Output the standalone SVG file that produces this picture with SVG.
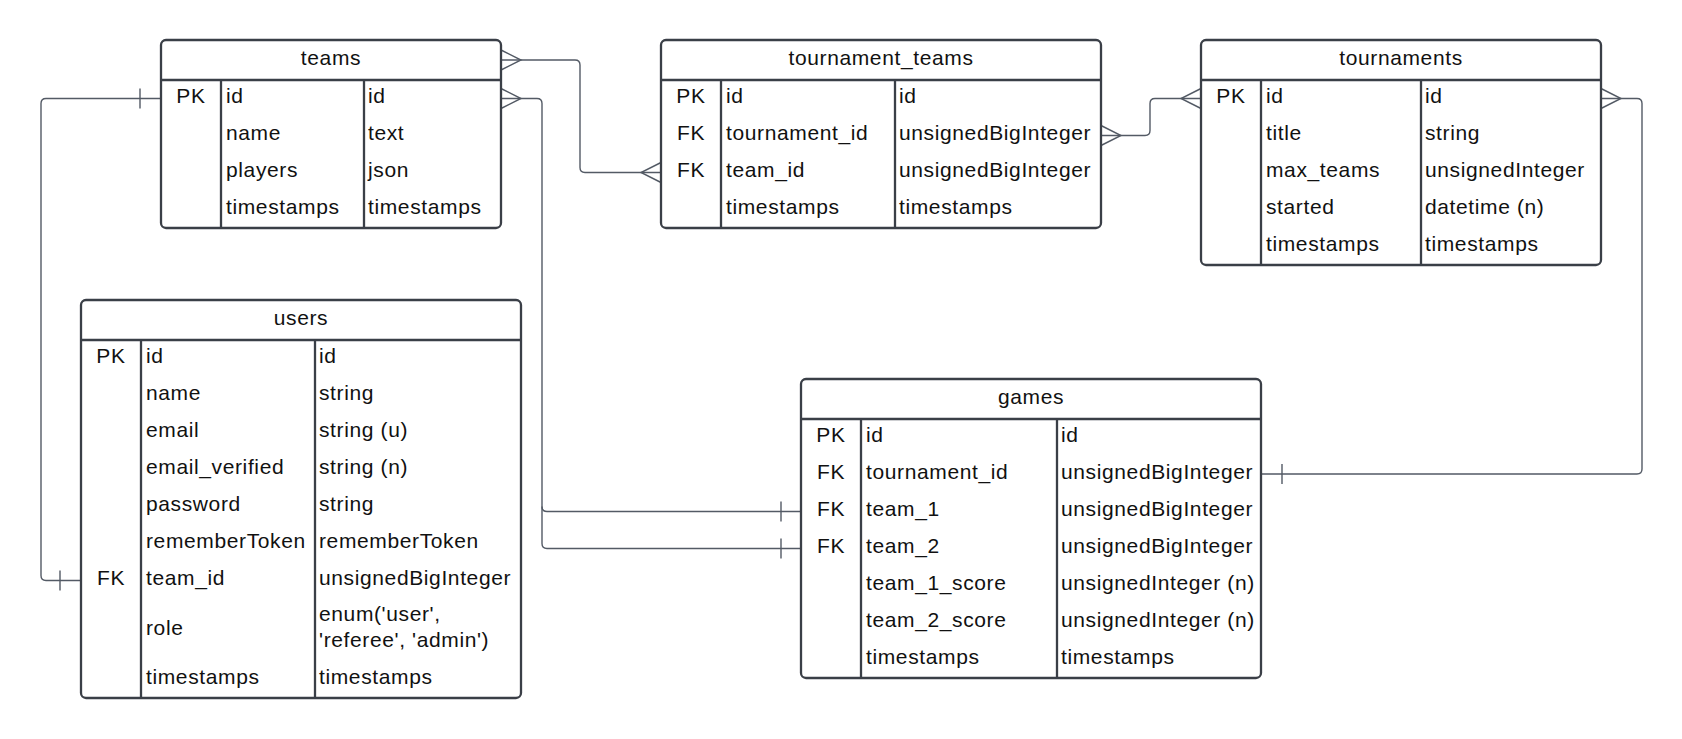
<svg xmlns="http://www.w3.org/2000/svg" width="1682" height="739" viewBox="0 0 1682 739">
<style>
.box{fill:#fff;stroke:#3a3f47;stroke-width:2.3}
.ln{stroke:#3a3f47;stroke-width:2.3;fill:none}
.t{font-family:"Liberation Sans",Arial,sans-serif;font-size:21px;letter-spacing:0.62px;fill:#111}
.c{text-anchor:middle}
.cn{fill:none;stroke:#535a65;stroke-width:1.4}
</style>
<rect width="1682" height="739" fill="#fff"/>
<g id="connectors">
  <path class="cn" d="M501 60 H575 Q580 60 580 65 V167.5 Q580 172.5 585 172.5 H661"/>
  <path class="cn" d="M501 50 L521 60 L501 70 M661 162.5 L641 172.5 L661 182.5"/>
  <path class="cn" d="M501 98.5 H537 Q542 98.5 542 103.5 V506.5 Q542 511.5 547 511.5 H801"/>
  <path class="cn" d="M542 506.5 V543.5 Q542 548.5 547 548.5 H801"/>
  <path class="cn" d="M501 88.5 L521 98.5 L501 108.5 M781 501.5 V521.5 M781 538.5 V558.5"/>
  <path class="cn" d="M81 580.5 H46 Q41 580.5 41 575.5 V103.5 Q41 98.5 46 98.5 H161"/>
  <path class="cn" d="M60 570.5 V590.5 M140 88.5 V108.5"/>
  <path class="cn" d="M1101 135.5 H1145 Q1150 135.5 1150 130.5 V103.5 Q1150 98.5 1155 98.5 H1201"/>
  <path class="cn" d="M1101 125.5 L1121 135.5 L1101 145.5 M1201 88.5 L1181 98.5 L1201 108.5"/>
  <path class="cn" d="M1601 98.5 H1637 Q1642 98.5 1642 103.5 V469 Q1642 474 1637 474 H1261"/>
  <path class="cn" d="M1601 88.5 L1621 98.5 L1601 108.5 M1282 464 V484"/>
</g>
<g id="teams">
  <rect class="box" x="161" y="40" width="340" height="188" rx="5"/>
  <path class="ln" d="M161 80 H501 M221 80 V228 M364 80 V228"/>
  <text class="t c" x="331" y="65">teams</text>
  <text class="t c" x="191" y="103">PK</text>
  <text class="t" x="226" y="103">id</text><text class="t" x="368" y="103">id</text>
  <text class="t" x="226" y="140">name</text><text class="t" x="368" y="140">text</text>
  <text class="t" x="226" y="177">players</text><text class="t" x="368" y="177">json</text>
  <text class="t" x="226" y="214">timestamps</text><text class="t" x="368" y="214">timestamps</text>
</g>
<g id="tournament_teams">
  <rect class="box" x="661" y="40" width="440" height="188" rx="5"/>
  <path class="ln" d="M661 80 H1101 M721 80 V228 M895 80 V228"/>
  <text class="t c" x="881" y="65">tournament_teams</text>
  <text class="t c" x="691" y="103">PK</text>
  <text class="t" x="726" y="103">id</text><text class="t" x="899" y="103">id</text>
  <text class="t c" x="691" y="140">FK</text>
  <text class="t" x="726" y="140">tournament_id</text><text class="t" x="899" y="140">unsignedBigInteger</text>
  <text class="t c" x="691" y="177">FK</text>
  <text class="t" x="726" y="177">team_id</text><text class="t" x="899" y="177">unsignedBigInteger</text>
  <text class="t" x="726" y="214">timestamps</text><text class="t" x="899" y="214">timestamps</text>
</g>
<g id="tournaments">
  <rect class="box" x="1201" y="40" width="400" height="225" rx="5"/>
  <path class="ln" d="M1201 80 H1601 M1261 80 V265 M1421 80 V265"/>
  <text class="t c" x="1401" y="65">tournaments</text>
  <text class="t c" x="1231" y="103">PK</text>
  <text class="t" x="1266" y="103">id</text><text class="t" x="1425" y="103">id</text>
  <text class="t" x="1266" y="140">title</text><text class="t" x="1425" y="140">string</text>
  <text class="t" x="1266" y="177">max_teams</text><text class="t" x="1425" y="177">unsignedInteger</text>
  <text class="t" x="1266" y="214">started</text><text class="t" x="1425" y="214">datetime (n)</text>
  <text class="t" x="1266" y="251">timestamps</text><text class="t" x="1425" y="251">timestamps</text>
</g>
<g id="users">
  <rect class="box" x="81" y="300" width="440" height="398" rx="5"/>
  <path class="ln" d="M81 340 H521 M141 340 V698 M315 340 V698"/>
  <text class="t c" x="301" y="325">users</text>
  <text class="t c" x="111" y="363">PK</text>
  <text class="t" x="146" y="363">id</text><text class="t" x="319" y="363">id</text>
  <text class="t" x="146" y="400">name</text><text class="t" x="319" y="400">string</text>
  <text class="t" x="146" y="437">email</text><text class="t" x="319" y="437">string (u)</text>
  <text class="t" x="146" y="474">email_verified</text><text class="t" x="319" y="474">string (n)</text>
  <text class="t" x="146" y="511">password</text><text class="t" x="319" y="511">string</text>
  <text class="t" x="146" y="548">rememberToken</text><text class="t" x="319" y="548">rememberToken</text>
  <text class="t c" x="111" y="585">FK</text>
  <text class="t" x="146" y="585">team_id</text><text class="t" x="319" y="585">unsignedBigInteger</text>
  <text class="t" x="146" y="635">role</text>
  <text class="t" x="319" y="621">enum('user',</text>
  <text class="t" x="319" y="647">'referee', 'admin')</text>
  <text class="t" x="146" y="684">timestamps</text><text class="t" x="319" y="684">timestamps</text>
</g>
<g id="games">
  <rect class="box" x="801" y="379" width="460" height="299" rx="5"/>
  <path class="ln" d="M801 419 H1261 M861 419 V678 M1057 419 V678"/>
  <text class="t c" x="1031" y="404">games</text>
  <text class="t c" x="831" y="442">PK</text>
  <text class="t" x="866" y="442">id</text><text class="t" x="1061" y="442">id</text>
  <text class="t c" x="831" y="479">FK</text>
  <text class="t" x="866" y="479">tournament_id</text><text class="t" x="1061" y="479">unsignedBigInteger</text>
  <text class="t c" x="831" y="516">FK</text>
  <text class="t" x="866" y="516">team_1</text><text class="t" x="1061" y="516">unsignedBigInteger</text>
  <text class="t c" x="831" y="553">FK</text>
  <text class="t" x="866" y="553">team_2</text><text class="t" x="1061" y="553">unsignedBigInteger</text>
  <text class="t" x="866" y="590">team_1_score</text><text class="t" x="1061" y="590">unsignedInteger (n)</text>
  <text class="t" x="866" y="627">team_2_score</text><text class="t" x="1061" y="627">unsignedInteger (n)</text>
  <text class="t" x="866" y="664">timestamps</text><text class="t" x="1061" y="664">timestamps</text>
</g>
</svg>
